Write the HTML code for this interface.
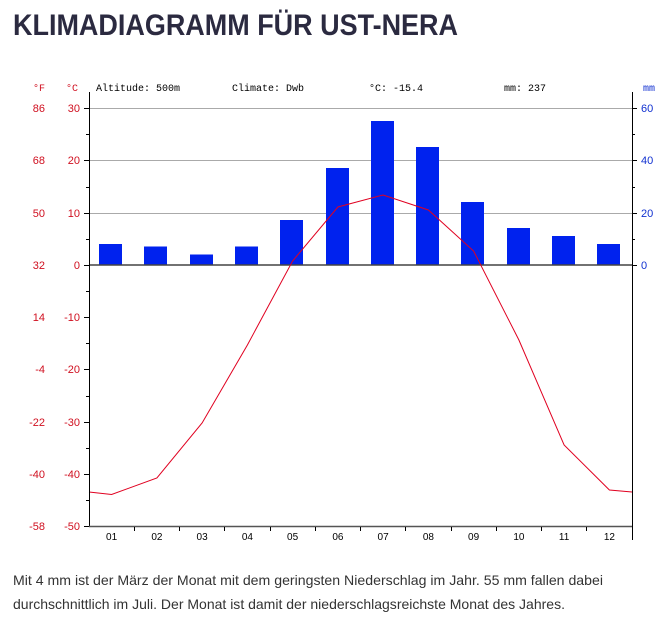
<!DOCTYPE html>
<html><head><meta charset="utf-8"><style>
html,body{margin:0;padding:0;background:#fff;width:663px;height:617px;overflow:hidden}
svg{display:block}
</style></head><body>
<svg width="663" height="617" viewBox="0 0 663 617" xmlns="http://www.w3.org/2000/svg">
<text x="13" y="35" font-family="Liberation Sans, sans-serif" font-weight="bold" font-size="30" fill="#2b2a40" textLength="445" lengthAdjust="spacingAndGlyphs">KLIMADIAGRAMM FÜR UST-NERA</text>

<g font-family="Liberation Mono, monospace" font-size="10" fill="#000">
<text x="96" y="91">Altitude: 500m</text>
<text x="232" y="91">Climate: Dwb</text>
<text x="369" y="91">°C: -15.4</text>
<text x="504" y="91">mm: 237</text>
</g>
<g font-family="Liberation Mono, monospace" font-size="10" fill="#d01020">
<text x="33" y="91">°F</text><text x="66" y="91">°C</text>
</g>
<text x="643" y="91" font-family="Liberation Mono, monospace" font-size="10" fill="#1030d0">mm</text>

<!-- grid -->
<g stroke="#aaa" stroke-width="1">
<line x1="89" y1="108.5" x2="632" y2="108.5"/>
<line x1="89" y1="160.5" x2="632" y2="160.5"/>
<line x1="89" y1="213.5" x2="632" y2="213.5"/>
</g>

<!-- bars -->
<g fill="#0022ee">
<rect x="99" y="244" width="23" height="21"/>
<rect x="144" y="246.5" width="23" height="18.5"/>
<rect x="190" y="254.5" width="23" height="10.5"/>
<rect x="235" y="246.5" width="23" height="18.5"/>
<rect x="280" y="220" width="23" height="45"/>
<rect x="326" y="168" width="23" height="97"/>
<rect x="371" y="121" width="23" height="144"/>
<rect x="416" y="147" width="23" height="118"/>
<rect x="461" y="202" width="23" height="63"/>
<rect x="507" y="228" width="23" height="37"/>
<rect x="552" y="236" width="23" height="29"/>
<rect x="597" y="244" width="23" height="21"/>
</g>
<line x1="89" y1="265" x2="632" y2="265" stroke="#444" stroke-width="1.5"/>

<polyline fill="none" stroke="#e00020" stroke-width="1" points="89,492 111.6,494.5 156.9,478 202.1,423 247.4,345 292.6,261 337.9,207 383.1,195 428.4,210 473.6,251 518.9,340 564.1,445 609.4,490 632,492"/>

<!-- axes -->
<g stroke="#000" stroke-width="1">
<line x1="89.5" y1="92" x2="89.5" y2="527"/>
<line x1="632.5" y1="92" x2="632.5" y2="540"/>
</g>
<line x1="89" y1="526.5" x2="632" y2="526.5" stroke="#555" stroke-width="1.5"/>

<g stroke="#000" stroke-width="1">
<line x1="84" y1="108.5" x2="89" y2="108.5"/><line x1="86" y1="134.5" x2="89" y2="134.5"/>
<line x1="84" y1="160.5" x2="89" y2="160.5"/><line x1="86" y1="187.5" x2="89" y2="187.5"/>
<line x1="84" y1="213.5" x2="89" y2="213.5"/><line x1="86" y1="239.5" x2="89" y2="239.5"/>
<line x1="84" y1="265.5" x2="89" y2="265.5"/><line x1="86" y1="291.5" x2="89" y2="291.5"/>
<line x1="84" y1="317.5" x2="89" y2="317.5"/><line x1="86" y1="343.5" x2="89" y2="343.5"/>
<line x1="84" y1="369.5" x2="89" y2="369.5"/><line x1="86" y1="396.5" x2="89" y2="396.5"/>
<line x1="84" y1="422.5" x2="89" y2="422.5"/><line x1="86" y1="448.5" x2="89" y2="448.5"/>
<line x1="84" y1="474.5" x2="89" y2="474.5"/><line x1="86" y1="500.5" x2="89" y2="500.5"/>
<line x1="84" y1="526.5" x2="89" y2="526.5"/>
<line x1="632" y1="108.5" x2="637" y2="108.5"/><line x1="632" y1="134.5" x2="635" y2="134.5"/>
<line x1="632" y1="160.5" x2="637" y2="160.5"/><line x1="632" y1="187.5" x2="635" y2="187.5"/>
<line x1="632" y1="213.5" x2="637" y2="213.5"/><line x1="632" y1="239.5" x2="635" y2="239.5"/>
<line x1="632" y1="265.5" x2="637" y2="265.5"/>
</g>
<g stroke="#000" stroke-width="1">
<line x1="134.5" y1="527" x2="134.5" y2="531"/><line x1="179.5" y1="527" x2="179.5" y2="531"/>
<line x1="224.5" y1="527" x2="224.5" y2="531"/><line x1="270.5" y1="527" x2="270.5" y2="531"/>
<line x1="315.5" y1="527" x2="315.5" y2="531"/><line x1="360.5" y1="527" x2="360.5" y2="531"/>
<line x1="405.5" y1="527" x2="405.5" y2="531"/><line x1="451.5" y1="527" x2="451.5" y2="531"/>
<line x1="496.5" y1="527" x2="496.5" y2="531"/><line x1="541.5" y1="527" x2="541.5" y2="531"/>
<line x1="586.5" y1="527" x2="586.5" y2="531"/>
</g>

<g font-family="Liberation Sans, sans-serif" font-size="11" fill="#d01020" text-anchor="end">
<text x="45" y="112">86</text><text x="80" y="112">30</text>
<text x="45" y="164">68</text><text x="80" y="164">20</text>
<text x="45" y="217">50</text><text x="80" y="217">10</text>
<text x="45" y="269">32</text><text x="80" y="269">0</text>
<text x="45" y="321">14</text><text x="80" y="321">-10</text>
<text x="45" y="373">-4</text><text x="80" y="373">-20</text>
<text x="45" y="426">-22</text><text x="80" y="426">-30</text>
<text x="45" y="478">-40</text><text x="80" y="478">-40</text>
<text x="45" y="530">-58</text><text x="80" y="530">-50</text>
</g>
<g font-family="Liberation Sans, sans-serif" font-size="11" fill="#1030d0">
<text x="641" y="112">60</text><text x="641" y="164">40</text>
<text x="641" y="217">20</text><text x="641" y="269">0</text>
</g>
<g font-family="Liberation Sans, sans-serif" font-size="10" fill="#000" text-anchor="middle">
<text x="111.6" y="540">01</text><text x="156.9" y="540">02</text><text x="202.1" y="540">03</text>
<text x="247.4" y="540">04</text><text x="292.6" y="540">05</text><text x="337.9" y="540">06</text>
<text x="383.1" y="540">07</text><text x="428.4" y="540">08</text><text x="473.6" y="540">09</text>
<text x="518.9" y="540">10</text><text x="564.1" y="540">11</text><text x="609.4" y="540">12</text>
</g>

<g font-family="Liberation Sans, sans-serif" font-size="14" fill="#333">
<text x="13" y="585" textLength="590" lengthAdjust="spacingAndGlyphs">Mit 4 mm ist der März der Monat mit dem geringsten Niederschlag im Jahr. 55 mm fallen dabei</text>
<text x="13" y="609" textLength="552" lengthAdjust="spacingAndGlyphs">durchschnittlich im Juli. Der Monat ist damit der niederschlagsreichste Monat des Jahres.</text>
</g>
</svg>
</body></html>
